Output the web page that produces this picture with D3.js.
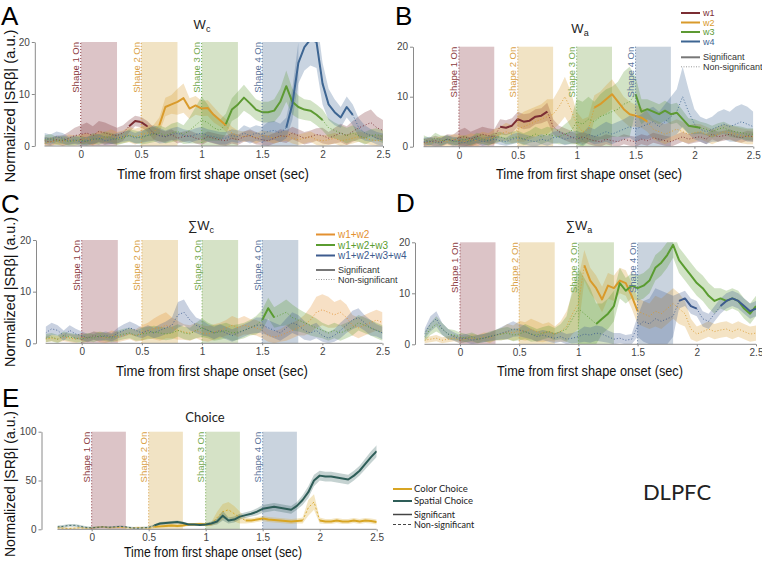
<!DOCTYPE html>
<html><head><meta charset="utf-8">
<script src="https://cdn.jsdelivr.net/npm/d3@7"></script>
<style>body{margin:0;background:#fff} svg{font-family:'Liberation Sans',Arial,sans-serif}</style>
</head><body><svg id="c" width="762" height="562"></svg>
<script>
// ---------------- DATA ----------------
const times = [-0.3,-0.25,-0.2,-0.15,-0.1,-0.05,0,0.05,0.1,0.15,0.2,0.25,0.3,0.35,0.4,0.45,0.5,0.55,0.6,0.65,0.7,0.75,0.8,0.85,0.9,0.95,1,1.05,1.1,1.15,1.2,1.25,1.3,1.35,1.4,1.45,1.5,1.55,1.6,1.65,1.7,1.75,1.8,1.85,1.9,1.95,2,2.05,2.1,2.15,2.2,2.25,2.3,2.35,2.4,2.45,2.5];
const onsets = [0, 0.5, 1, 1.5];
const shapeLabels = ["Shape 1 On","Shape 2 On","Shape 3 On","Shape 4 On"];
const xTicks = [0,0.5,1,1.5,2,2.5];
const yTicksW = [0,10,20];
const yTicksE = [0,50,100];

// Panel A: Wc
const A_w1 = [1.0,0.8,1.2,1.0,1.5,2.0,2.2,2.5,2.0,2.8, 2.5,2.2,2.0,2.5,3.8,4.8,4.6,3.8,2.5,2.0, 1.8,2.2,1.5,1.8,2.0,1.5,1.2,1.8,1.5,1.2, 1.0,1.5,1.2,1.8,2.0,1.5,1.2,1.0,1.5,2.0, 1.8,2.5,2.0,1.5,1.8,2.2,2.0,1.5,2.0,2.5, 2.0,2.8,3.5,4.0,4.5,3.5,3.0];
const A_w1_e = [0.8,0.8,0.8,1.0,1.2,1.5,1.8,2.0,1.8,2.0, 2.0,1.8,1.5,1.5,1.2,1.0,1.0,1.0,1.2,1.2, 1.0,1.0,1.0,1.0,1.0,1.0,1.0,1.0,1.0,1.0, 1.0,1.0,1.0,1.0,1.2,1.2,1.0,1.0,1.0,1.2, 1.2,1.2,1.2,1.2,1.2,1.2,1.5,1.2,1.5,1.8, 1.8,2.0,2.2,2.5,2.5,2.2,2.0];
const A_w1_sig = [[0.4,0.55]];
const A_w2 = [0.5,0.8,1.0,0.8,1.2,1.0,1.2,1.5,1.0,1.8, 1.5,2.0,1.5,1.8,2.2,1.8,2.2,2.5,2.5,4.0, 7.5,8.0,8.5,9.2,7.2,7.8,7.2,7.3,6.0,5.0, 4.0,2.5,2.0,1.8,2.0,1.5,2.0,1.8,1.5,1.8, 2.0,1.5,1.2,1.5,1.8,1.2,1.0,1.2,1.5,1.0, 1.2,1.5,1.8,1.5,1.2,1.0,1.2];
const A_w2_e = [0.8,0.8,0.8,0.8,1.0,1.0,1.0,1.0,1.0,1.2, 1.2,1.2,1.2,1.2,1.5,1.5,1.5,1.5,1.5,1.5, 1.8,1.8,2.5,2.8,2.0,1.8,1.5,1.5,1.5,1.2, 1.2,1.2,1.0,1.0,1.0,1.0,1.0,1.0,1.0,1.0, 1.0,1.0,1.0,1.0,1.0,1.0,1.0,1.0,1.0,1.0, 1.0,1.0,1.0,1.0,1.0,1.0,1.0];
const A_w2_sig = [[0.65,1.2]];
const A_w3 = [1.2,1.5,1.0,1.2,0.8,1.0,1.2,0.8,1.5,1.2, 1.8,1.5,1.2,1.5,2.0,1.8,1.5,2.0,2.2,2.5, 2.0,2.5,2.8,2.2,3.0,4.0,5.0,4.5,3.5,3.0, 4.2,7.0,8.0,9.3,8.2,7.0,6.5,6.5,6.8,8.5, 11.5,8.5,7.5,7.0,6.8,6.0,5.0,3.5,3.0,2.5, 2.0,2.5,2.0,1.5,2.0,2.2,1.8];
const A_w3_e = [0.8,0.8,0.8,0.8,0.8,0.8,0.8,0.8,1.0,1.0, 1.0,1.0,1.0,1.0,1.2,1.2,1.2,1.5,1.5,1.5, 1.5,1.8,1.8,1.8,2.5,3.5,4.5,3.5,2.5,2.0, 2.0,2.2,2.5,2.5,2.2,2.0,2.0,2.0,2.2,2.5, 3.0,2.5,2.2,2.0,2.0,2.0,2.0,1.8,1.5,1.5, 1.5,1.5,1.2,1.2,1.2,1.2,1.2];
const A_w3_sig = [[1.2,2.0]];
const A_w4 = [1.5,1.2,1.8,1.5,1.0,1.2,0.8,1.0,1.2,1.5, 1.0,1.2,1.5,1.8,2.0,1.5,1.8,2.0,2.5,2.0, 1.8,2.2,2.5,2.0,1.8,2.2,2.5,2.0,1.8,1.5, 1.5,2.0,1.8,2.5,2.0,2.5,2.2,2.8,3.0,2.5, 3.5,8.0,16.0,19.0,20.5,20.0,12.0,8.0,6.5,5.5, 7.5,6.0,3.5,2.5,2.0,1.5,1.2];
const A_w4_e = [1.0,1.0,1.0,1.0,0.8,0.8,0.8,0.8,0.8,0.8, 0.8,0.8,1.0,1.0,1.0,1.0,1.2,1.2,1.5,1.5, 1.2,1.2,1.2,1.2,1.2,1.2,1.2,1.2,1.2,1.2, 1.2,1.2,1.2,1.5,1.5,1.5,1.5,1.8,1.8,1.8, 2.0,3.0,4.0,4.5,5.0,5.0,4.0,3.0,2.5,2.0, 2.0,2.0,1.8,1.5,1.2,1.2,1.2];
const A_w4_sig = [[1.7,2.25]];

// Panel B: Wa
const B_w1 = [0.8,1.0,1.2,0.8,1.5,1.2,1.8,2.0,1.5,2.0, 2.5,2.2,2.0,4.0,3.8,4.2,5.5,5.0,5.2,6.0, 6.2,7.0,4.0,3.0,2.5,2.0,1.5,2.0,1.5,1.2, 1.0,1.5,1.2,1.0,1.5,1.2,1.0,1.5,1.2,1.8, 1.5,1.2,1.0,1.5,2.0,1.5,1.8,2.0,1.5,2.5, 2.0,2.2,2.5,2.0,1.8,2.2,2.0];
const B_w1_e = [0.8,0.8,1.0,1.0,1.0,1.2,1.5,1.8,1.5,1.5, 1.5,1.5,1.5,1.5,1.5,1.5,1.5,1.5,1.5,1.5, 1.5,1.8,1.5,1.2,1.2,1.2,1.0,1.0,1.0,1.0, 1.0,1.0,1.0,1.0,1.0,1.0,1.0,1.0,1.0,1.0, 1.0,1.0,1.0,1.0,1.0,1.0,1.0,1.0,1.0,1.0, 1.0,1.0,1.0,1.0,1.0,1.0,1.0];
const B_w1_sig = [[0.35,0.75]];
const B_w2 = [0.5,1.0,0.8,1.2,1.0,1.5,1.2,1.0,1.5,1.2, 1.8,1.5,2.0,2.5,3.0,2.5,3.5,4.0,4.5,5.0, 5.5,6.0,6.5,8.0,10.0,7.5,4.5,3.0,3.5,7.8, 8.5,9.5,10.5,9.0,7.5,6.5,6.2,5.8,5.0,3.5, 3.0,2.5,3.0,3.5,3.0,2.5,2.8,3.0,2.5,2.0, 2.5,3.0,2.8,2.5,2.2,2.0,2.0];
const B_w2_e = [0.8,0.8,0.8,1.0,1.0,1.0,1.2,1.2,1.2,1.2, 1.2,1.2,1.5,1.5,1.8,1.8,2.5,3.0,3.0,3.0, 3.0,3.5,3.0,3.5,4.0,3.5,2.5,2.5,2.5,2.5, 2.5,2.8,3.0,2.8,2.5,2.5,2.2,2.0,2.0,2.0, 2.0,2.0,2.0,2.0,2.0,1.8,1.8,1.5,1.5,1.5, 1.5,1.5,1.5,1.5,1.5,1.5,1.5];
const B_w2_sig = [[1.15,1.6]];
const B_w3 = [1.5,1.0,1.8,1.2,1.5,1.0,1.2,1.5,1.0,1.8, 1.5,1.2,1.8,2.0,1.5,1.8,2.0,1.5,2.0,2.5, 2.0,2.5,2.2,2.0,2.5,3.0,5.0,4.5,5.5,5.0, 6.0,6.5,7.0,7.5,8.5,9.0,10.5,7.0,7.5,7.0, 6.5,7.2,6.5,6.8,5.5,4.2,4.0,3.8,3.5,3.0, 3.5,3.8,3.2,3.0,2.8,2.5,2.5];
const B_w3_e = [0.8,0.8,1.0,1.0,0.8,0.8,0.8,0.8,0.8,1.0, 1.0,1.0,1.0,1.0,1.0,1.2,1.2,1.2,1.2,1.5, 1.5,1.5,1.5,1.5,2.0,2.5,4.5,4.5,4.5,4.0, 4.5,5.0,5.0,5.5,6.5,7.0,3.5,2.5,2.0,2.0, 2.0,2.0,2.0,2.0,1.8,1.5,1.5,1.2,1.2,1.2, 1.2,1.2,1.2,1.2,1.2,1.2,1.2];
const B_w3_sig = [[1.5,2.05]];
const B_w4 = [1.0,1.2,0.8,1.0,1.5,1.2,1.0,0.8,1.2,1.5, 1.0,1.2,1.5,1.2,1.0,1.5,1.8,1.5,1.2,1.0, 1.5,1.2,1.8,2.0,1.5,1.8,2.0,1.5,2.5,2.0, 2.5,3.0,2.5,3.0,3.5,4.0,3.5,4.0,4.5,5.0, 4.0,5.0,6.0,7.0,10.0,7.0,4.5,3.5,3.0,3.5, 4.0,4.5,4.0,4.5,5.0,4.5,4.0];
const B_w4_e = [0.8,0.8,0.8,0.8,0.8,0.8,0.8,0.8,0.8,0.8, 0.8,0.8,0.8,0.8,0.8,1.0,1.0,1.0,1.0,1.0, 1.0,1.0,1.2,1.2,1.2,1.2,1.2,1.2,1.5,1.5, 1.8,2.0,2.0,2.0,2.0,2.2,2.5,2.5,3.0,3.0, 3.0,3.5,4.0,4.5,6.0,4.5,3.0,2.5,2.5,2.5, 3.0,3.0,3.0,3.5,3.5,3.5,3.0];
const B_w4_sig = [];

// Panel C: sum Wc
const C_o = [0.8,1.0,0.8,1.2,1.0,0.8,1.2,1.0,1.5,1.2, 1.0,1.5,1.2,1.5,1.8,1.5,2.0,2.5,2.8,3.0, 3.5,3.0,2.5,2.2,2.0,2.5,2.0,1.8,2.2,2.5, 3.0,3.5,3.0,3.5,3.2,3.0,2.5,1.5,1.2,1.5, 2.0,2.5,3.0,3.5,4.5,6.0,6.5,6.0,5.5,6.0, 5.0,3.5,3.0,3.5,4.0,4.5,4.0];
const C_o_e = [0.6,0.6,0.6,0.8,0.8,0.8,0.8,0.8,0.8,1.0, 1.0,1.0,1.0,1.0,1.0,1.2,1.5,1.5,2.0,2.5, 2.5,2.0,1.8,1.5,1.5,1.5,1.5,1.5,1.5,1.5, 1.5,1.8,1.8,1.8,1.5,1.5,1.5,1.2,1.2,1.2, 1.5,1.5,1.5,2.0,2.5,3.0,3.0,3.0,2.5,2.5, 2.5,2.0,2.0,2.0,2.0,2.0,2.0];
const C_o_sig = [];
const C_g = [1.0,1.2,0.8,1.5,1.2,1.0,0.8,1.2,1.0,1.5, 1.2,1.0,1.5,1.8,2.0,1.5,1.8,2.0,2.2,2.0, 1.8,2.0,2.5,2.0,1.8,2.5,3.0,2.5,2.0,2.2, 2.5,2.0,2.2,2.5,3.0,3.5,4.5,6.8,5.0,5.5, 6.0,5.0,4.5,4.0,3.5,3.0,2.5,2.0,2.5,2.0, 2.5,3.0,4.0,3.5,3.0,2.5,2.0];
const C_g_e = [0.8,0.8,0.8,0.8,0.8,0.8,0.8,0.8,0.8,0.8, 0.8,0.8,1.0,1.0,1.0,1.0,1.2,1.2,1.2,1.2, 1.2,1.2,1.2,1.2,1.2,1.5,1.8,1.5,1.5,1.5, 1.5,1.5,1.5,1.5,1.5,1.8,2.0,2.0,2.0,2.2, 2.5,2.5,2.2,2.0,2.0,1.8,1.5,1.5,1.5,1.5, 1.5,1.5,1.5,1.5,1.5,1.5,1.5];
const C_g_sig = [[1.5,1.6]];
const C_b = [2.0,2.8,2.5,1.5,2.5,1.8,1.5,1.0,1.5,1.2, 1.5,1.2,2.0,2.5,3.0,2.5,2.0,2.5,2.0,2.5, 3.0,3.5,5.5,6.0,4.5,3.5,3.0,2.5,2.0,2.5, 2.0,1.5,2.0,2.5,3.0,3.5,3.5,3.0,2.5,2.0, 3.0,4.0,3.5,2.5,2.0,2.5,1.5,1.0,1.5,2.5, 3.5,4.5,5.0,4.0,3.0,2.5,2.0];
const C_b_e = [1.2,1.2,1.0,1.0,1.0,1.0,0.8,0.8,0.8,0.8, 0.8,0.8,1.0,1.2,1.2,1.2,1.0,1.0,1.0,1.2, 1.2,1.5,2.5,2.5,2.0,1.5,1.5,1.2,1.2,1.2, 1.2,1.2,1.2,1.2,1.2,1.5,1.5,1.5,1.5,1.5, 1.8,2.0,2.0,1.8,1.5,1.5,1.2,1.2,1.2,1.5, 1.5,1.8,1.8,1.5,1.5,1.2,1.2];
const C_b_sig = [];

// Panel D: sum Wa
const D_o = [0.8,1.0,1.2,0.8,1.0,1.2,0.8,1.0,1.2,1.0, 1.5,1.2,1.8,2.0,2.5,2.2,2.8,2.5,3.0,2.5, 2.2,2.5,2.0,2.5,3.5,6.0,8.0,15.5,12.5,11.0, 8.8,11.5,11.0,12.5,12.0,9.5,6.5,6.0,5.5,6.5, 6.0,7.0,8.0,7.0,6.0,3.0,2.0,2.5,3.0,2.5, 2.8,3.0,2.5,3.0,2.5,2.0,2.2];
const D_o_e = [0.6,0.6,0.6,0.6,0.6,0.6,0.6,0.6,0.8,0.8, 0.8,1.0,1.0,1.2,1.5,1.5,1.8,1.8,2.0,2.0, 1.8,1.8,1.5,2.0,3.0,4.0,5.0,3.0,2.5,2.5, 2.5,2.5,2.5,2.5,2.5,2.5,2.5,2.5,2.5,3.0, 3.0,3.0,3.0,3.0,2.5,2.0,1.5,1.5,1.5,1.5, 1.5,1.5,1.5,1.5,1.5,1.5,1.5];
const D_o_sig = [[1.05,1.5]];
const D_g = [1.5,3.0,4.0,3.0,2.0,1.8,1.5,1.2,1.5,1.0, 1.2,1.5,1.8,2.0,2.2,1.8,2.0,2.5,2.0,1.8, 2.2,2.5,2.0,2.5,3.0,5.0,7.0,6.0,5.0,4.0, 5.0,6.0,7.5,12.0,10.5,11.5,11.0,11.5,12.5,15.0, 16.0,17.5,19.5,16.5,15.0,13.5,12.0,11.0,9.5,8.5, 9.0,8.5,9.0,8.5,7.0,6.0,7.5];
const D_g_e = [1.0,1.2,1.5,1.2,1.0,1.0,0.8,0.8,0.8,0.8, 0.8,1.0,1.0,1.2,1.2,1.2,1.2,1.5,1.5,1.2, 1.2,1.2,1.2,1.5,2.5,6.0,8.0,7.0,6.0,4.0, 3.0,3.0,3.0,3.0,2.5,2.5,2.5,2.5,2.5,2.5, 2.5,2.5,2.5,2.5,2.5,2.5,2.5,2.5,2.5,2.5, 2.0,2.0,2.0,2.0,2.0,2.0,2.0];
const D_g_sig = [[1.15,2.5]];
const D_b = [2.0,4.0,5.0,3.0,2.0,1.5,1.0,1.2,0.8,1.0, 1.2,1.5,1.8,2.2,2.5,3.0,2.8,2.5,2.0,1.5, 1.8,1.5,1.2,1.5,1.0,1.2,1.5,2.0,1.8,2.2, 2.0,1.5,1.0,1.2,0.8,1.0,3.5,4.5,4.0,5.0, 4.5,5.0,5.5,8.5,9.0,7.5,7.0,5.0,4.5,6.0, 7.5,8.5,9.0,8.5,7.5,6.5,7.0];
const D_b_e = [1.0,1.5,1.5,1.2,1.0,0.8,0.8,0.8,0.8,0.8, 0.8,0.8,1.0,1.2,1.5,1.5,1.2,1.2,1.0,1.0, 1.0,1.0,1.0,1.0,1.0,1.0,1.2,1.5,1.5,1.5, 1.5,1.2,1.2,1.0,1.0,1.0,2.0,4.0,5.0,6.0, 6.0,5.0,4.0,1.5,1.5,1.5,1.5,1.5,1.5,1.5, 1.5,1.5,1.5,1.5,1.5,1.5,1.5];
const D_b_sig = [[1.85,2.0],[2.2,2.5]];

// Panel E: Choice
const E_col = [1.5,1.0,0.8,1.2,1.5,1.0,1.2,2.0,2.5,1.5, 1.8,2.0,1.5,1.2,1.8,1.5,1.0,2.5,3.0,3.5, 4.0,3.5,4.0,5.0,5.0,5.5,5.0,5.5,12.0,18.0, 20.0,16.0,12.0,9.0,9.0,10.0,11.0,10.0,9.5,9.0, 8.5,8.0,8.5,9.0,22.0,28.0,9.0,8.0,8.0,9.0, 8.0,8.0,9.0,8.0,9.0,8.5,7.5];
const E_col_e = [1.5,1.5,1.0,1.0,1.0,1.0,1.0,1.0,1.0,1.0, 1.0,1.0,1.0,1.0,1.0,1.0,1.0,1.2,1.2,1.5, 1.5,1.5,1.5,1.5,1.5,1.5,1.5,2.0,6.0,8.0, 8.0,8.0,6.0,3.0,2.5,2.5,2.5,2.5,2.5,2.5, 2.5,2.5,2.5,3.0,8.0,8.0,3.0,2.5,2.5,2.5, 2.5,2.5,2.5,2.5,2.5,2.5,2.5];
const E_col_sig = [[0.55,1.05],[1.35,1.85],[2.0,2.5]];
const E_sp = [2.5,3.0,4.0,4.0,3.0,2.0,1.5,2.0,2.5,2.0, 2.5,3.0,2.5,1.5,1.0,1.5,2.0,4.0,6.0,6.5, 7.0,7.5,6.5,5.0,5.0,4.5,5.0,6.0,8.0,14.0, 9.0,10.0,13.0,14.5,16.0,18.0,21.0,22.0,23.0,22.0, 21.0,20.0,24.0,30.0,38.0,50.0,55.0,54.0,54.0,53.0, 52.0,51.0,55.0,60.0,67.0,74.0,80.0];
const E_sp_e = [1.5,1.5,1.5,1.5,1.5,1.2,1.0,1.0,1.0,1.0, 1.0,1.0,1.0,1.0,1.0,1.0,1.0,1.2,1.5,1.5, 1.5,1.5,1.5,1.2,1.2,1.2,1.5,2.0,3.0,5.0, 3.0,3.0,3.0,3.0,3.0,3.5,4.0,4.0,4.0,4.0, 4.0,4.0,4.0,5.0,6.0,6.0,5.0,5.0,5.0,5.0, 5.0,5.0,5.0,5.0,5.5,6.0,6.0];
const E_sp_sig = [[0.55,2.5]];

// ---------------- STYLE ----------------
const C1 = '#7b2d33', C2 = '#d99a2b', C3 = '#5d9a33', C4 = '#3d6592';
const CO = '#e39030', CG = '#5a9c30', CB = '#3d5b8e';
const CGOLD = '#d8a523', CTEAL = '#2e5d58';
const rectColors = ['#dcc4c7','#f1e3c4','#d5e2c6','#c9d3de'];
const onsetColors = ['#8c3b40','#d99f45','#73a84e','#59739a'];

const panels = [
  {id:'A', xd:[-0.38,2.5], xr:[34.8,383], yr:[146,42], ymax:20, yticks:yTicksW,
   series:[{c:C1,v:A_w1,e:A_w1_e,s:A_w1_sig},{c:C2,v:A_w2,e:A_w2_e,s:A_w2_sig},{c:C3,v:A_w3,e:A_w3_e,s:A_w3_sig},{c:C4,v:A_w4,e:A_w4_e,s:A_w4_sig}],
   letter:[1,25], title:{pre:'',main:'W',sub:'c',x:202,y:29}, xlab:{x:213,y:179,len:192}, ylab:{x:15,y:106,len:153}},
  {id:'B', xd:[-0.39,2.5], xr:[413,753.3], yr:[146.7,46.7], ymax:20, yticks:yTicksW,
   series:[{c:C1,v:B_w1,e:B_w1_e,s:B_w1_sig},{c:C2,v:B_w2,e:B_w2_e,s:B_w2_sig},{c:C3,v:B_w3,e:B_w3_e,s:B_w3_sig},{c:C4,v:B_w4,e:B_w4_e,s:B_w4_sig}],
   letter:[395,25], title:{pre:'',main:'W',sub:'a',x:580,y:33}, xlab:{x:589,y:179,len:186}},
  {id:'C', xd:[-0.38,2.5], xr:[36,382.5], yr:[343.3,240], ymax:20, yticks:yTicksW,
   series:[{c:CO,v:C_o,e:C_o_e,s:C_o_sig},{c:CG,v:C_g,e:C_g_e,s:C_g_sig},{c:CB,v:C_b,e:C_b_e,s:C_b_sig}],
   letter:[1,213], title:{pre:'∑',main:'W',sub:'c',x:201,y:230}, xlab:{x:212,y:376,len:192}, ylab:{x:15,y:292,len:150}},
  {id:'D', xd:[-0.38,2.5], xr:[415,756], yr:[344.3,242.3], ymax:20, yticks:yTicksW,
   series:[{c:C2,v:D_o,e:D_o_e,s:D_o_sig},{c:CG,v:D_g,e:D_g_e,s:D_g_sig},{c:CB,v:D_b,e:D_b_e,s:D_b_sig}],
   letter:[396,212], title:{pre:'∑',main:'W',sub:'a',x:579,y:230}, xlab:{x:590,y:376,len:186}},
  {id:'E', xd:[-0.44,2.5], xr:[41.5,376.7], yr:[529.3,431.7], ymax:100, yticks:yTicksE,
   series:[{c:CGOLD,v:E_col,e:E_col_e,s:E_col_sig},{c:CTEAL,v:E_sp,e:E_sp_e,s:E_sp_sig}],
   letter:[2,407], title:{text:'Choice',x:205,y:422}, xlab:{x:213,y:557,len:178}, ylab:{x:15,y:484,len:146}}
];

const svg = d3.select('#c');
const defs = svg.append('defs');

function inSig(t, sig){ return sig.some(r => t >= r[0]-1e-9 && t <= r[1]+1e-9); }

panels.forEach(p => {
  const x = d3.scaleLinear().domain(p.xd).range(p.xr);
  const y = d3.scaleLinear().domain([0,p.ymax]).range(p.yr);
  const g = svg.append('g');
  const clipId = 'clip' + p.id;
  defs.append('clipPath').attr('id', clipId).append('rect')
    .attr('x', x(-0.3)).attr('y', y(p.ymax)).attr('width', x(2.5)-x(-0.3)).attr('height', y(0)-y(p.ymax));

  // stimulus windows
  onsets.forEach((o,i) => {
    g.append('rect').attr('x', x(o)).attr('width', x(o+0.3)-x(o))
      .attr('y', y(p.ymax)).attr('height', y(0)-y(p.ymax)).attr('fill', rectColors[i]);
  });

  const plot = g.append('g').attr('clip-path', `url(#${clipId})`);
  const rows = p.series.map(s => times.map((t,i) => ({t, v:s.v[i], e:s.e[i], sig:inSig(t, s.s)})));
  const area = d3.area().x(d => x(d.t)).y0(d => y(Math.max(0, d.v-d.e))).y1(d => y(d.v+d.e));
  p.series.forEach((s,k) => {
    plot.append('path').datum(rows[k]).attr('d', area).attr('fill', s.c).attr('fill-opacity', 0.28);
  });
  p.series.forEach((s,k) => {
    const r = rows[k];
    const dl = d3.line().x(d => x(d.t)).y(d => y(d.v))
      .defined((d,i) => !d.sig || (i>0 && !r[i-1].sig) || (i<r.length-1 && !r[i+1].sig));
    plot.append('path').datum(r).attr('d', dl).attr('fill','none').attr('stroke', s.c)
      .attr('stroke-width', 1).attr('stroke-dasharray', p.id==='E' ? '2,2' : '1,2').attr('stroke-opacity', 0.85);
  });
  p.series.forEach((s,k) => {
    const sl = d3.line().x(d => x(d.t)).y(d => y(d.v)).defined(d => d.sig);
    plot.append('path').datum(rows[k]).attr('d', sl).attr('fill','none').attr('stroke', s.c)
      .attr('stroke-width', 2).attr('stroke-linejoin','round');
  });

  // onset lines and labels
  onsets.forEach((o,i) => {
    g.append('line').attr('x1', x(o)).attr('x2', x(o)).attr('y1', y(0)).attr('y2', y(p.ymax))
      .attr('stroke', onsetColors[i]).attr('stroke-width', 1).attr('stroke-dasharray', '1,2');
    g.append('text').attr('transform', `translate(${x(o)-1.5},${y(p.ymax)}) rotate(-90)`)
      .attr('text-anchor','end').attr('font-size', 9.5).attr('fill', onsetColors[i]).text(shapeLabels[i]);
  });

  // axes
  const yAxis = d3.axisLeft(y).tickValues(p.yticks).tickSize(3).tickSizeOuter(0).tickPadding(2);
  const ya = g.append('g').attr('transform', `translate(${x(p.xd[0])},0)`).call(yAxis);
  const xAxis = d3.axisBottom(x).tickValues(xTicks).tickSize(2).tickPadding(3).tickFormat(d3.format('~g'));
  const xa = g.append('g').attr('transform', `translate(0,${y(0)})`).call(xAxis);
  xa.select('.domain').remove();
  xa.append('line').attr('x1', x(-0.3)).attr('x2', x(2.5)).attr('stroke', '#8a8a8a');
  [ya, xa].forEach(a => {
    a.selectAll('.domain').attr('stroke', '#8a8a8a');
    a.selectAll('.tick line').attr('stroke', '#8a8a8a');
    a.selectAll('.tick text').attr('font-size', 10).attr('fill', '#444').attr('font-family', "'Liberation Sans',Arial,sans-serif");
  });

  // panel letter
  svg.append('text').attr('x', p.letter[0]).attr('y', p.letter[1]).attr('font-size', 26).attr('fill', '#000').text(p.id);

  // title
  const tt = svg.append('text').attr('x', p.title.x).attr('y', p.title.y).attr('text-anchor','middle').attr('fill','#222');
  if (p.title.text) {
    tt.attr('font-family', 'Lato, sans-serif').attr('font-size', 13).text(p.title.text);
  } else {
    tt.attr('font-size', 13);
    if (p.title.pre) tt.append('tspan').text(p.title.pre);
    tt.append('tspan').text(p.title.main);
    tt.append('tspan').attr('font-size', 9).attr('dy', 3).text(p.title.sub);
  }

  // axis labels
  svg.append('text').attr('x', p.xlab.x).attr('y', p.xlab.y).attr('text-anchor','middle')
    .attr('font-size', 14.5).attr('fill', '#111').attr('textLength', p.xlab.len).attr('lengthAdjust','spacingAndGlyphs')
    .text('Time from first shape onset (sec)');
  if (p.ylab) {
    svg.append('text').attr('transform', `translate(${p.ylab.x},${p.ylab.y}) rotate(-90)`).attr('text-anchor','middle')
      .attr('font-size', 14.5).attr('fill', '#111').attr('textLength', p.ylab.len).attr('lengthAdjust','spacingAndGlyphs')
      .text('Normalized |SRβ| (a.u.)');
  }
});

// ---------------- LEGENDS ----------------
function legend(items, x0, x1, tx, font, size) {
  items.forEach(it => {
    svg.append('line').attr('x1', x0).attr('x2', x1).attr('y1', it.y).attr('y2', it.y)
      .attr('stroke', it.c).attr('stroke-width', it.w).attr('stroke-dasharray', it.dash || null);
    svg.append('text').attr('x', tx).attr('y', it.y + (it.fs || size)*0.35).attr('font-size', it.fs || size)
      .attr('font-family', font).attr('fill', it.tc).text(it.label);
  });
}
const legW = ['w1','w2','w3','w4'];
const legSum = ['w1+w2','w1+w2+w3','w1+w2+w3+w4'];
const legE = ['Color Choice','Spatial Choice'];
const legSig = ['Significant','Non-significant'];

legend([
  {label:legW[0], c:C1, tc:C1, w:2, y:13},
  {label:legW[1], c:C2, tc:C2, w:2, y:22.5},
  {label:legW[2], c:C3, tc:C3, w:2, y:32},
  {label:legW[3], c:C4, tc:C4, w:2, y:41.5},
  {label:legSig[0], c:'#777', tc:'#333', w:2, y:57.3, fs:9},
  {label:legSig[1], c:'#999', tc:'#333', w:1, dash:'1,1.5', y:66.8, fs:9}
], 681, 700, 703, "'Liberation Sans',Arial,sans-serif", 9);

legend([
  {label:legSum[0], c:CO, tc:CO, w:2, y:234.5},
  {label:legSum[1], c:CG, tc:CG, w:2, y:245},
  {label:legSum[2], c:CB, tc:CB, w:2, y:255.5},
  {label:legSig[0], c:'#777', tc:'#333', w:2, y:270, fs:9},
  {label:legSig[1], c:'#999', tc:'#333', w:1, dash:'1,1.5', y:279.5, fs:9}
], 316, 335, 338, "'Liberation Sans',Arial,sans-serif", 10);

legend([
  {label:legE[0], c:CGOLD, tc:'#222', w:2, y:489},
  {label:legE[1], c:CTEAL, tc:'#222', w:2, y:501},
  {label:legSig[0], c:'#444', tc:'#222', w:1.5, y:514.5, fs:9},
  {label:legSig[1], c:'#444', tc:'#222', w:1, dash:'3,2', y:524.5, fs:9}
], 393, 412, 414, "Lato, sans-serif", 9.5);

svg.append('text').attr('x', 677).attr('y', 500).attr('text-anchor','middle')
  .attr('font-family', 'Lato, sans-serif').attr('font-size', 22).attr('fill', '#222').text('DLPFC');
</script>
</body></html>
